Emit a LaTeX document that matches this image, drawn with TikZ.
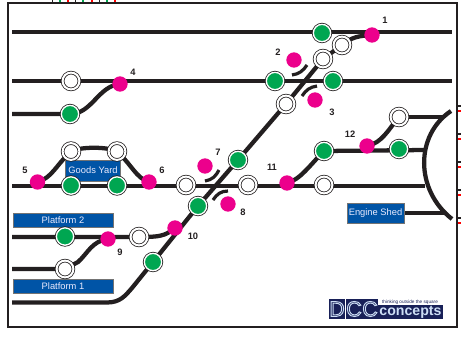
\documentclass[tikz,border=0pt]{standalone}
\usepackage{fontspec}
\setmainfont{Liberation Sans}
\usetikzlibrary{backgrounds}
\definecolor{lampgreen}{RGB}{0,166,81}
\definecolor{pointpink}{RGB}{236,0,140}
\definecolor{boxblue}{RGB}{0,84,166}
\definecolor{logonavy}{RGB}{24,32,88}
\definecolor{logopale}{RGB}{205,222,245}
\definecolor{trackblack}{RGB}{35,31,32}
\newcommand{\logoletter}[1]{\special{pdf:code 1 Tr 0.7 w}#1\special{pdf:code 0 Tr}}
\tikzstyle{track} = [draw=trackblack, line width=3.2pt]
\tikzstyle{blade} = [draw=trackblack, line width=2.4pt]
\tikzstyle{whitelamp} = [circle, draw=trackblack, fill=white, line width=0.6pt, double=white, double distance=1.5pt, minimum size=12.6pt, inner sep=0pt]
\tikzstyle{greenlamp} = [circle, fill=lampgreen, draw=white, line width=1pt, minimum size=13pt, inner sep=0pt, preaction={draw=trackblack, line width=2.2pt}]
\tikzstyle{pointlamp} = [circle, fill=pointpink, minimum size=11.5pt, inner sep=0pt]
\tikzstyle{namebox} = [draw=black!55, line width=0.5pt, fill=boxblue, text=white!92!blue, font=\fontsize{7}{8}\selectfont, inner sep=0pt]
\tikzstyle{pointnum} = [font=\fontsize{7}{8}\selectfont\bfseries, text=trackblack, inner sep=0pt]
\tikzstyle{logobox} = [fill=logonavy, text=logopale, inner sep=0pt, font=\fontsize{16}{16}\selectfont]

\begin{document}
\begin{tikzpicture}[x=0.75pt, y=-0.75pt]
	\useasboundingbox (0,0) rectangle (461,337);
	\draw [draw=trackblack, line width=1.5pt] (7.5,2.5) rectangle (457,327);
	\draw [trackblack, line width=1.2pt] (52.5,0) -- (52.5,2) (75.5,0) -- (75.5,2) (99.5,0) -- (99.5,2);
	\draw [lampgreen, line width=1.2pt] (60,0) -- (60,2) (83,0) -- (83,2) (107,0) -- (107,2);
	\draw [red, line width=1.2pt] (68,0) -- (68,2) (92,0) -- (92,2) (115,0) -- (115,2);
	\draw [trackblack, line width=1.2pt] (457,106) -- (461,106) (457,134) -- (461,134) (457,162) -- (461,162) (457,190) -- (461,190) (457,218) -- (461,218);
	\draw [red, line width=1.4pt] (458,111) -- (461,111) (458,139) -- (461,139) (458,167) -- (461,167) (458,195) -- (461,195) (458,223) -- (461,223);

	\node [namebox, minimum width=41pt, minimum height=16pt] (goods) at (93,170.5) {Goods Yard};
	\node [namebox, minimum width=75pt, minimum height=10.5pt] (plat2) at (63,220) {Platform 2};
	\node [namebox, minimum width=75pt, minimum height=10.5pt] (plat1) at (63,286) {Platform 1};
	\node [namebox, minimum width=43pt, minimum height=15pt] (shed) at (375.5,213) {Engine Shed};

	\node [whitelamp] (w4) at (71,81) {};
	\node [greenlamp] (g4) at (70,114) {};
	\node [pointlamp] (p4) at (120,84) {};
	\node [greenlamp] (g1) at (322,33) {};
	\node [pointlamp] (p1) at (372,35) {};
	\node [whitelamp] (w1) at (342,45) {};
	\node [whitelamp] (w2) at (323,59) {};
	\node [pointlamp] (p2) at (294,60) {};
	\node [greenlamp] (g2) at (275,81) {};
	\node [greenlamp] (g3) at (333,81) {};
	\node [pointlamp] (p3) at (315,100) {};
	\node [whitelamp] (w3) at (286,104) {};
	\node [greenlamp] (g7) at (238,160) {};
	\node [pointlamp] (p7) at (205,166) {};
	\node [whitelamp] (w7) at (186,185) {};
	\node [whitelamp] (w8) at (248,185) {};
	\node [greenlamp] (g8) at (198,206) {};
	\node [pointlamp] (p8) at (228,204) {};
	\node [pointlamp] (p10) at (175,228) {};
	\node [greenlamp] (g10) at (153,262) {};
	\node [whitelamp] (w10) at (139,237) {};
	\node [pointlamp] (p9) at (108,239) {};
	\node [greenlamp] (g9) at (65,236.5) {};
	\node [whitelamp] (w9) at (65,269) {};
	\node [pointlamp] (p5) at (37.5,182) {};
	\node [pointlamp] (p6) at (149,182) {};
	\node [whitelamp] (w5) at (71,151.5) {};
	\node [whitelamp] (w6) at (117,151.5) {};
	\node [greenlamp] (g5) at (71,185.5) {};
	\node [greenlamp] (g6) at (117,185.5) {};
	\node [pointlamp] (p11) at (287,183) {};
	\node [whitelamp] (w11) at (324,185) {};
	\node [greenlamp] (g11) at (324,151) {};
	\node [pointlamp] (p12) at (367,146) {};
	\node [greenlamp] (g12) at (399,149) {};
	\node [whitelamp] (w12) at (399,117) {};

	\node [pointnum] (n1) at (385,20.5) {1};
	\node [pointnum] (n2) at (278,52) {2};
	\node [pointnum] (n3) at (332,112) {3};
	\node [pointnum] (n4) at (133,72) {4};
	\node [pointnum] (n5) at (25,170) {5};
	\node [pointnum] (n6) at (162,170) {6};
	\node [pointnum] (n7) at (218,152.5) {7};
	\node [pointnum] (n8) at (243,212) {8};
	\node [pointnum] (n9) at (120,252) {9};
	\node [pointnum] (n10) at (193,236.5) {10};
	\node [pointnum] (n11) at (272,167) {11};
	\node [pointnum] (n12) at (350,134.5) {12};

	\node [logobox, minimum width=12pt, minimum height=15pt] (logod) at (337,309) {\logoletter{D}};
	\node [logobox, minimum width=12pt, minimum height=15pt] (logoc) at (354,309) {\logoletter{C}};
	\node [logobox, minimum width=12pt, minimum height=15pt] (logocc) at (370,309) {\logoletter{C}};
	\node [logobox, minimum width=49pt, minimum height=10.5pt, font=\fontsize{10.6}{11}\selectfont\bfseries] (logoname) at (410.5,312) {concepts};
	\node [font=\fontsize{3.5}{4}\selectfont, text=logonavy, inner sep=0pt] (logotag) at (410,302) {thinking outside the square};

	\coordinate (top1) at (12,32);
	\coordinate (top2) at (452,32);
	\coordinate (up1) at (12,81);
	\coordinate (up2) at (452,81);
	\coordinate (loop1) at (12,114);
	\coordinate (main1) at (12,186);
	\coordinate (main2) at (425,186);
	\coordinate (plat2a) at (12,237);
	\coordinate (plat1a) at (12,269);
	\coordinate (bay1) at (12,302.5);
	\coordinate (shedturn) at (444,213);
	\coordinate (shedend) at (425,150);
	\coordinate (fan1) at (451,111);
	\coordinate (fan2) at (452,219);
	\coordinate (fan3) at (443,117);

	\begin{scope}[on background layer]
		\draw [track] (top1) -- (top2);
		\draw [track] (up1) -- (up2);
		\draw [track] (loop1) -- (g4.center) .. controls (92,114) and (98,86) .. (p4.center);
		\draw [track] (main1) -- (main2);
		\draw [track] (plat2a) -- (w10.center) .. controls (160,237) and (165,236) .. (p10.center);
		\draw [track] (plat1a) -- (w9.center) -- (78,262) .. controls (88,253) and (92,241) .. (p9.center);
		\draw [track] (bay1) -- (107,302.5) .. controls (120,302.5) and (125,296) .. (132,288) -- (g10.center) -- (g8.center) -- (g7.center) -- (w3.center) -- (w2.center) -- (w1.center) .. controls (352,37) and (358,36) .. (p1.center);
		\draw [track] (p5.center) .. controls (52,178) and (56,165) .. (w5.center);
		\draw [track] (w5.center) .. controls (80,146.5) and (108,146.5) .. (w6.center);
		\draw [track] (w6.center) .. controls (132,165) and (136,178) .. (p6.center);
		\draw [track] (p11.center) .. controls (300,180) and (310,165) .. (g11.center);
		\draw [track] (g11.center) -- (shedend);
		\draw [track] (p12.center) .. controls (382,143) and (388,130) .. (w12.center);
		\draw [track] (w12.center) -- (fan3);
		\draw [track] (shed.east) -- (shedturn);
		\draw [track] (fan1) .. controls (415,135) and (415,190) .. (fan2);
		\draw [blade] (292,75) .. controls (299,74) and (303,71) .. (307,65);
		\draw [blade] (302,96) .. controls (306,90) and (310,87) .. (317,86);
		\draw [blade] (205,181) .. controls (212,180) and (216,176) .. (219,170);
		\draw [blade] (213,200) .. controls (217,194) and (221,191) .. (228,191);
	\end{scope}
\end{tikzpicture}
\end{document}
